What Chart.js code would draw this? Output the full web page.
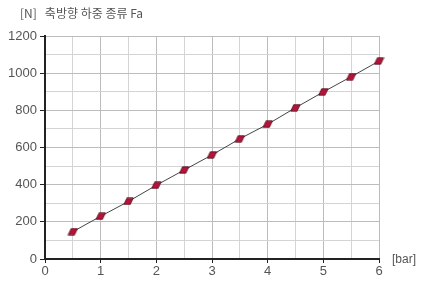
<!DOCTYPE html>
<html>
<head>
<meta charset="utf-8">
<script src="https://cdn.jsdelivr.net/npm/chart.js@4/dist/chart.umd.min.js"></script>
<style>
  html, body { margin: 0; padding: 0; background: #fff; }
  #wrap { width: 422px; height: 281px; position: relative; }
</style>
</head>
<body>
<div id="wrap"><canvas id="chartFa" width="422" height="281"></canvas></div>
<script>
// data
const pressureBar = [0.5, 1, 1.5, 2, 2.5, 3, 3.5, 4, 4.5, 5, 5.5, 6];
const forceN = [147, 230, 310, 397, 479, 560, 647, 725, 814, 899, 981, 1065];
const titleText = "[N]   축방향 하중 종류 Fa";
const xUnit = "[bar]";

const el = (id) => document.getElementById(id);
const FONT = "'Liberation Sans', Arial, sans-serif";

// small slanted marker like the original
const makeMarker = () => {
  const cv = document.createElement("canvas");
  cv.width = 11;
  cv.height = 8;
  const c = cv.getContext("2d");
  c.beginPath();
  c.moveTo(0.8, 7.2);
  c.lineTo(3.8, 0.8);
  c.lineTo(10.2, 0.8);
  c.lineTo(7.2, 7.2);
  c.closePath();
  c.fillStyle = "#b8123a";
  c.fill();
  c.strokeStyle = "#4a1520";
  c.lineWidth = 0.8;
  c.stroke();
  return cv;
};

// titles drawn on canvas
const labelsPlugin = {
  id: "labels",
  afterDraw(chart) {
    const c = chart.ctx;
    c.save();
    c.fillStyle = "#555";
    c.font = "12px 'Noto Sans CJK KR', " + FONT;
    c.textBaseline = "middle";
    c.textAlign = "left";
    c.fillText(titleText, 20, 13);
    c.font = "12px " + FONT;
    c.fillText(xUnit, 392, 260);
    c.restore();
  },
};

const points = pressureBar.map((x, i) => ({ x, y: forceN[i] }));

new Chart(el("chartFa").getContext("2d"), {
  type: "line",
  data: {
    datasets: [
      {
        data: points,
        borderColor: "#444",
        borderWidth: 1,
        pointStyle: makeMarker(),
        pointRadius: 5,
        tension: 0,
        clip: false,
      },
    ],
  },
  options: {
    responsive: false,
    animation: false,
    layout: { padding: { top: 36, right: 43, left: 0, bottom: 0 } },
    plugins: { legend: { display: false }, tooltip: { enabled: false } },
    scales: {
      x: {
        type: "linear",
        min: 0,
        max: 6,
        afterFit: (s) => { s.height = 22; },
        ticks: {
          stepSize: 0.5,
          color: "#555",
          font: { family: FONT, size: 13 },
          padding: 1,
          maxRotation: 0,
          autoSkip: false,
          callback: (v) => (v % 1 === 0 ? v : ""),
        },
        grid: {
          color: (ctx) => (ctx.tick && ctx.tick.value % 1 === 0 ? "#bcbcbc" : "#d4d4d4"),
          tickColor: (ctx) => (ctx.tick && ctx.tick.value % 1 === 0 ? "#222" : "rgba(0,0,0,0)"),
          tickLength: 4,
        },
        border: { color: "#222", width: 2 },
      },
      y: {
        min: 0,
        max: 1200,
        afterFit: (s) => { s.width = 45; },
        ticks: {
          stepSize: 100,
          color: "#555",
          font: { family: FONT, size: 13 },
          padding: 3,
          autoSkip: false,
          callback: (v) => (v % 200 === 0 ? v : ""),
        },
        grid: {
          color: (ctx) => (ctx.tick && ctx.tick.value % 200 === 0 ? "#bcbcbc" : "#d4d4d4"),
          tickColor: (ctx) => (ctx.tick && ctx.tick.value % 200 === 0 ? "#222" : "rgba(0,0,0,0)"),
          tickLength: 5,
        },
        border: { color: "#222", width: 2 },
      },
    },
  },
  plugins: [labelsPlugin],
});
</script>
</body>
</html>
